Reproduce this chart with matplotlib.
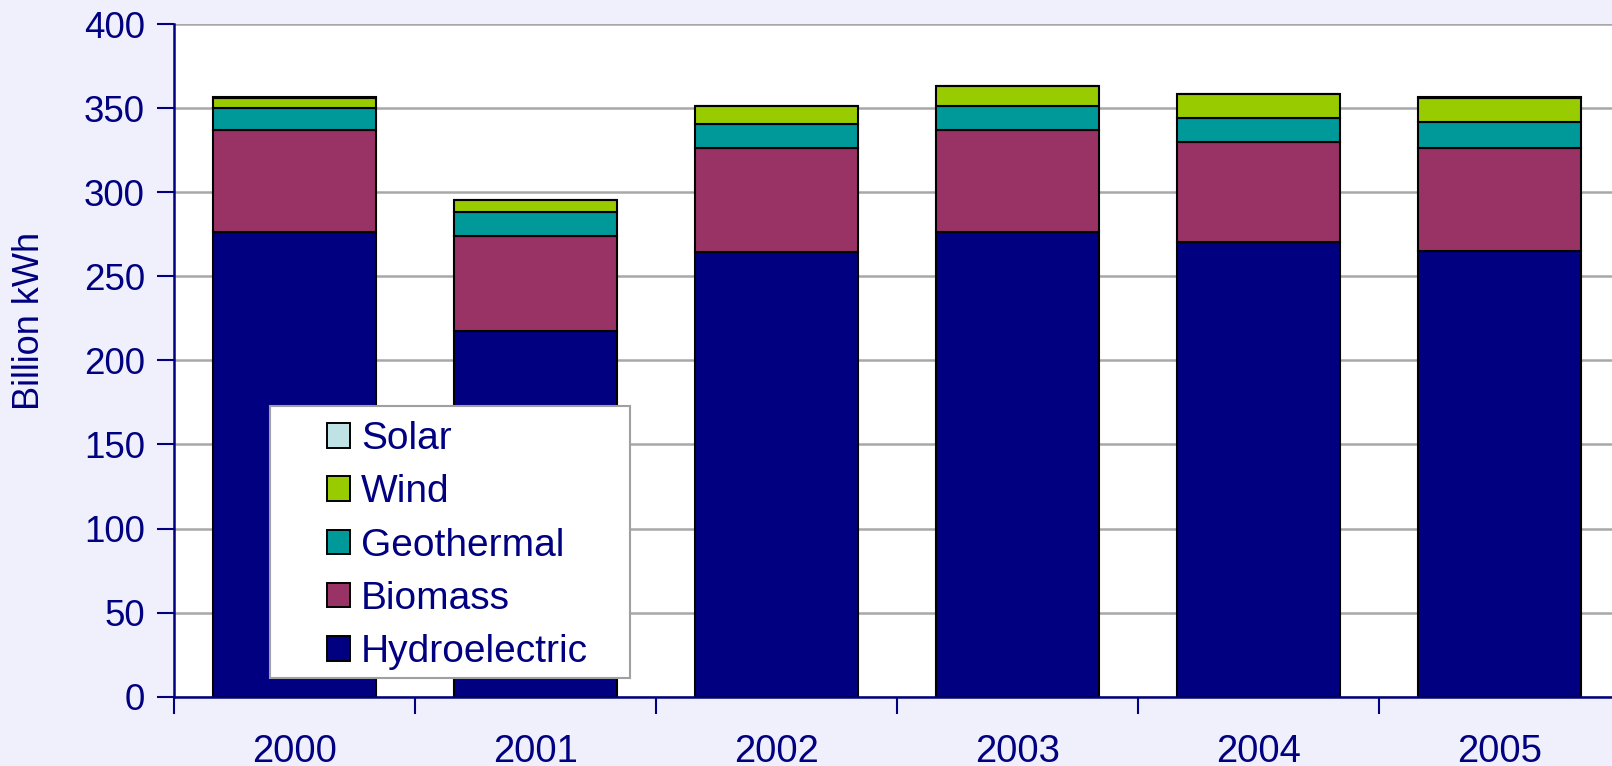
import numpy as np
import matplotlib
matplotlib.use("Agg")
import matplotlib.pyplot as plt
from matplotlib.patches import Patch, Rectangle

plt.rcParams['font.family'] = ['Liberation Sans', 'DejaVu Sans']

anos = ["2000", "2001", "2002", "2003", "2004", "2005"]

# Geração renovável por fonte (bilhões de kWh)
hidreletrica = [276.2, 217.7, 264.3, 276.2, 270.2, 265.3]
biomassa = [60.7, 56.1, 61.9, 60.7, 59.8, 60.9]
geotermica = [12.9, 14.3, 14.3, 14.3, 14.0, 15.5]
eolica = [6.0, 7.1, 10.7, 11.9, 14.6, 14.1]
solar = [0.5, 0.0, 0.0, 0.0, 0.0, 0.6]

series = [
    ("Hydroelectric", hidreletrica, "#000080"),
    ("Biomass", biomassa, "#993366"),
    ("Geothermal", geotermica, "#009999"),
    ("Wind", eolica, "#99CC00"),
    ("Solar", solar, "#BFE3E5"),
]

azul = "#000080"
fundo = "#F0F0FD"
W, H = 1612, 766

fig = plt.figure(figsize=(W / 100, H / 100), dpi=100, facecolor=fundo)
# o eixo passa um pouco da borda direita da figura
ax = fig.add_axes([174 / W, 69.3 / H, 1446 / W, 672.7 / H])
ax.set_facecolor("white")

x = np.arange(len(anos))
base = np.zeros(len(anos))
for nome, valores, cor in series:
    ax.bar(x, valores, width=0.676, bottom=base, color=cor,
           edgecolor="black", linewidth=1.5, zorder=3)
    base += np.array(valores)

ax.set_xlim(-0.5, 5.5)
ax.set_ylim(0, 400)
ax.set_yticks(range(0, 401, 50))
ax.yaxis.grid(True, color="#A8A8A8", linewidth=1.8, zorder=0)

# marcas nas divisões entre categorias, rótulos no centro
ax.set_xticks(np.arange(-0.5, 6, 1))
ax.set_xticklabels([])
ax.set_xticks(x, minor=True)
ax.set_xticklabels(anos, minor=True)
ax.tick_params(axis="x", which="major", direction="out", length=12, width=1.5, color=azul)
ax.tick_params(axis="x", which="minor", length=0, pad=27, labelsize=27.5, labelcolor=azul)
ax.tick_params(axis="y", direction="out", length=12, width=1.5, color=azul,
               pad=9, labelsize=26.5, labelcolor=azul)

for lado in ["top", "right"]:
    ax.spines[lado].set_visible(False)
for lado in ["left", "bottom"]:
    ax.spines[lado].set_color(azul)
    ax.spines[lado].set_linewidth(1.8)
    ax.spines[lado].set_zorder(4)

fig.text(30 / W, 1 - 321 / H, "Billion kWh", rotation=90, fontsize=26,
         color=azul, ha="center", va="center")

# caixa da legenda
caixa = Rectangle((270 / W, 1 - 678 / H), 360 / W, 272 / H, transform=fig.transFigure,
                  facecolor="white", edgecolor="#A0A0A0", linewidth=1.5, zorder=5)
fig.add_artist(caixa)

handles = [Patch(facecolor=cor, edgecolor="black", linewidth=1.4, label=nome)
           for nome, valores, cor in reversed(series)]
leg = fig.legend(handles=handles, loc="upper left",
                 bbox_to_anchor=(327 / W, 1 - 421 / H),
                 fontsize=28, frameon=False,
                 handlelength=0.59, handleheight=0.59, handletextpad=0.28,
                 labelspacing=0.445, borderpad=0, borderaxespad=0)
leg.set_zorder(6)
for t in leg.get_texts():
    t.set_color(azul)

fig.savefig("out.png", dpi=100, facecolor=fundo)
